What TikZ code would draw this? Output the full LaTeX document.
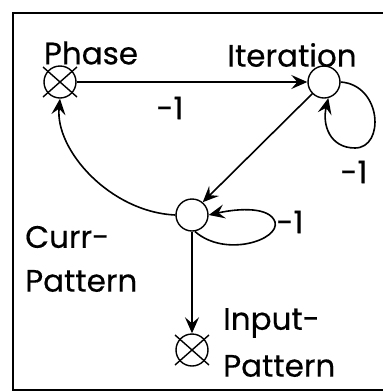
\documentclass[tikz,border=0pt]{standalone}
\usepackage{fontspec}
\setmainfont{Poppins}[FakeBold=0.4]
\usetikzlibrary{arrows.meta}
\begin{document}
\begin{tikzpicture}[x=1pt,y=-1pt,
  circ/.style={draw,circle,line width=1.4pt,minimum size=32pt,inner sep=0pt},
  arr/.style={line width=1.6pt,-{Stealth[length=16pt,width=14pt,inset=6pt]}},
  lbl/.style={font=\fontsize{31}{34}\selectfont,inner sep=0pt},
  frame/.style={line width=2.6pt}]
\useasboundingbox (0,0) rectangle (383,392);
\draw[frame] (383,13) -- (13,13) -- (13,390) -- (383,390);
\node[circ] (ph) at (60,82) {};
\node[circ] (it) at (324,82) {};
\node[circ] (cp) at (192,215) {};
\node[circ] (ip) at (192,350) {};
\draw[line width=1.4pt] ([shift={(-17,-15)}]ph.center) -- ([shift={(17,15)}]ph.center)
  ([shift={(-17,15)}]ph.center) -- ([shift={(17,-15)}]ph.center);
\draw[line width=1.4pt] ([shift={(-17,-15)}]ip.center) -- ([shift={(17,15)}]ip.center)
  ([shift={(-17,15)}]ip.center) -- ([shift={(17,-15)}]ip.center);
\node[lbl] (tph) at (91,53) {Phase};
\node[lbl] (tit) at (292,55) {Iteration};
\node[lbl] (m1) at (170,108) {-1};
\node[lbl] (m2) at (354,172) {-1};
\node[lbl] (m3) at (290,222) {-1};
\node[lbl,anchor=west] (tc1) at (25,237) {Curr-};
\node[lbl,anchor=west] (tc2) at (25,281) {Pattern};
\node[lbl,anchor=west] (ti1) at (223,323) {Input-};
\node[lbl,anchor=west] (ti2) at (223,366) {Pattern};
\draw[arr] (ph) -- (it);
\draw[arr] (it.east) .. controls (382,85) and (385,148) .. (355,148)
  .. controls (330,148) and (322,125) .. (it.-75);
\draw[arr] (it.225) -- (cp.50);
\draw[arr] (cp.-80) .. controls (225,258) and (280,240) .. (275,222)
  .. controls (270,207) and (240,208) .. (cp.east);
\draw[arr] (cp.west) .. controls (110,212) and (55,150) .. (ph.south);
\draw[arr] (cp) -- (ip);
\end{tikzpicture}
\end{document}
